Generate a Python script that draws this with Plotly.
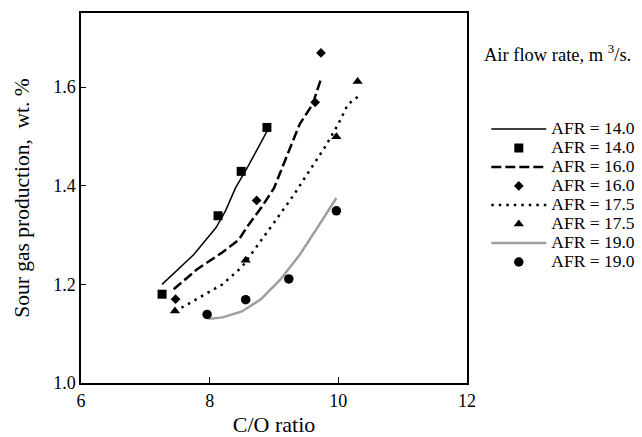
import plotly.graph_objects as go

# C/O ratio vs sour gas production (wt. %)
# Model curves
line14_x = [7.26, 7.75, 8.10, 8.25, 8.40, 8.60, 8.89]
line14_y = [1.200, 1.260, 1.315, 1.350, 1.395, 1.440, 1.510]
line16_x = [7.44, 7.80, 8.20, 8.45, 8.60, 8.80, 9.00, 9.20, 9.40, 9.60, 9.74]
line16_y = [1.190, 1.230, 1.265, 1.290, 1.320, 1.355, 1.395, 1.460, 1.525, 1.565, 1.620]
line175_x = [7.46, 7.80, 8.20, 8.50, 8.70, 9.00, 9.30, 9.60, 9.80, 10.00, 10.15, 10.30]
line175_y = [1.145, 1.170, 1.200, 1.235, 1.270, 1.325, 1.380, 1.440, 1.480, 1.525, 1.565, 1.580]
line19_x = [7.98, 8.20, 8.50, 8.80, 9.10, 9.40, 9.70, 9.97]
line19_y = [1.130, 1.133, 1.145, 1.170, 1.210, 1.260, 1.320, 1.375]

# Experimental points
pts14_x = [7.26, 8.13, 8.49, 8.89]
pts14_y = [1.180, 1.339, 1.429, 1.518]
pts16_x = [7.47, 8.73, 9.64, 9.73]
pts16_y = [1.170, 1.370, 1.569, 1.669]
pts175_x = [7.46, 8.56, 9.97, 10.30]
pts175_y = [1.146, 1.249, 1.499, 1.611]
pts19_x = [7.96, 8.56, 9.23, 9.97]
pts19_y = [1.139, 1.169, 1.211, 1.349]

labels = ["AFR = 14.0", "AFR = 16.0", "AFR = 17.5", "AFR = 19.0"]
x_ticks = [6, 8, 10, 12]
y_ticks = [1.0, 1.2, 1.4, 1.6]

FONT = "Liberation Serif, Times New Roman, serif"

def lg(t):
    return '<span style="font-size:17.5px">' + t + '</span>'

fig = go.Figure()

line_sets = [
    (line14_x, line14_y, dict(color="black", width=1.5, dash="solid")),
    (line16_x, line16_y, dict(color="black", width=2.5, dash="10px,4px")),
    (line175_x, line175_y, dict(color="black", width=2.5, dash="2.5px,5px")),
    (line19_x, line19_y, dict(color="#9e9e9e", width=2.5, dash="solid")),
]
pt_sets = [
    (pts14_x, pts14_y, dict(symbol="square", size=9, color="black")),
    (pts16_x, pts16_y, dict(symbol="diamond", size=7.5, color="black")),
    (pts175_x, pts175_y, dict(symbol="triangle-up", size=9, color="black")),
    (pts19_x, pts19_y, dict(symbol="circle", size=9.5, color="black")),
]

for i in range(4):
    lx, ly, lstyle = line_sets[i]
    fig.add_trace(go.Scatter(x=lx, y=ly, mode="lines", line=lstyle,
                             name=lg(labels[i])))
    px, py, mstyle = pt_sets[i]
    fig.add_trace(go.Scatter(x=px, y=py, mode="markers", marker=mstyle,
                             name=lg(labels[i])))

fig.update_layout(
    width=642, height=437,
    margin=dict(l=81, r=175, t=13, b=54, autoexpand=False),
    paper_bgcolor="white", plot_bgcolor="white",
    font=dict(family=FONT, color="black", size=17),
    showlegend=True,
    legend=dict(
        x=1.050, y=0.7257, xanchor="left", yanchor="top",
        font=dict(family=FONT, size=12, color="black"),
        itemwidth=55, bgcolor="rgba(0,0,0,0)", borderwidth=0,
        tracegroupgap=0,
    ),
    annotations=[dict(
        text="Air flow rate, m <sup>3</sup>/s.", xref="paper", yref="paper",
        x=1.038, y=0.892, xanchor="left", yanchor="middle", showarrow=False,
        font=dict(family=FONT, size=18.5, color="black"),
    )],
)

fig.update_xaxes(
    range=[6, 12], tickvals=x_ticks, ticktext=[str(v) for v in x_ticks],
    showgrid=False, zeroline=False, showline=True, linecolor="black",
    linewidth=1.5, mirror=True, ticks="inside", ticklen=6, tickcolor="black",
    tickwidth=1, tickfont=dict(size=18), ticklabelstandoff=1,
    title=dict(text="C/O ratio", font=dict(size=22), standoff=8),
)
fig.update_yaxes(
    range=[1.0, 1.75], tickvals=y_ticks, ticktext=["%.1f" % v for v in y_ticks],
    showgrid=False, zeroline=False, showline=True, linecolor="black",
    linewidth=1.5, mirror=True, ticks="inside", ticklen=5, tickcolor="black",
    tickwidth=1, tickfont=dict(size=18),
    title=dict(text="Sour gas production,\u00a0\u00a0wt. %", font=dict(size=21.5), standoff=18),
)

fig.write_html("out.html")
